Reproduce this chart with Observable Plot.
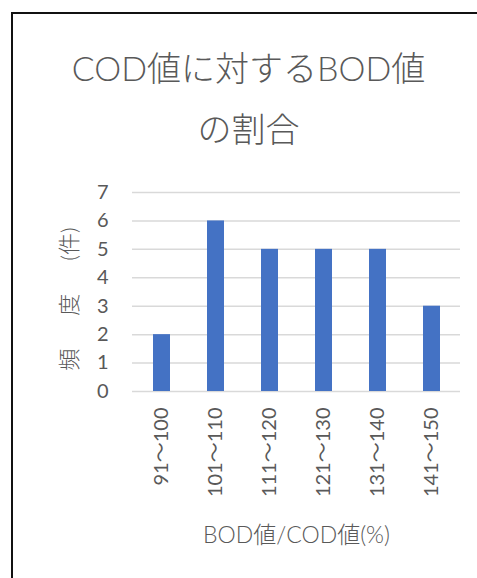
<!DOCTYPE html>
<html>
<head>
<meta charset="utf-8">
<script src="https://cdn.jsdelivr.net/npm/d3@7"></script>
<script src="https://cdn.jsdelivr.net/npm/@observablehq/plot@0.6"></script>
<style>
  html, body { margin: 0; padding: 0; background: #fff; width: 477px; height: 578px; overflow: hidden; }
  body { position: relative; font-family: Lato, "Noto Sans CJK JP", sans-serif; }
  #frame { position: absolute; left: 11px; top: 12px; width: 500px; height: 600px;
           border-left: 2px solid #111; border-top: 2px solid #111; }
  #title { position: absolute; left: 0; width: 497px; top: 37px; text-align: center;
           color: #595959; font-size: 34px; line-height: 61px; font-weight: 300; }
  #chart { position: absolute; left: 0; top: 170px; }
</style>
</head>
<body>
<div id="frame"></div>
<div id="title">COD値に対するBOD値<br>の割合</div>
<div id="chart"></div>
<script>
const categories = ["91～100", "101～110", "111～120", "121～130", "131～140", "141～150"];
const counts = [2, 6, 5, 5, 5, 3];
const yTicks = [0, 1, 2, 3, 4, 5, 6, 7];
const yLabel = "頻\u3000\u2002度\u3000\u2002(件)";
const xLabel = "BOD値/COD値(%)";

const data = categories.map((c, i) => ({category: c, count: counts[i]}));
const textColor = "#595959";

const chart = Plot.plot({
  width: 477,
  height: 390,
  marginLeft: 132,
  marginRight: 17,
  marginTop: 22,
  marginBottom: 169,
  style: {fontFamily: 'Lato, "Noto Sans CJK JP", sans-serif', fontSize: "20px", color: textColor, background: "transparent"},
  x: {domain: categories, paddingInner: 0.69, paddingOuter: 0.345, label: null},
  y: {domain: [0, 7], label: null},
  marks: [
    Plot.gridY(yTicks, {stroke: "#d9d9d9", strokeOpacity: 1, strokeWidth: 1.5}),
    Plot.barY(data, {x: "category", y: "count", fill: "#4472C4"}),
    Plot.axisY(yTicks, {tickSize: 0, tickPadding: 24, fontSize: 20, fill: textColor, label: null, tickFormat: d => String(d)}),
    Plot.axisX({tickSize: 0, tickPadding: 16, tickRotate: -90, fontSize: 20, fill: textColor, label: null}),
    Plot.text([yLabel], {frameAnchor: "left", dx: -63, dy: 7, rotate: -90, fontSize: 22, fontWeight: 300, fill: textColor, textAnchor: "middle", lineAnchor: "middle"}),
    Plot.text([xLabel], {frameAnchor: "bottom", dy: 144, fontSize: 23, fontWeight: 300, fill: textColor, textAnchor: "middle", lineAnchor: "middle"})
  ]
});
document.getElementById("chart").appendChild(chart);
</script>
</body>
</html>
